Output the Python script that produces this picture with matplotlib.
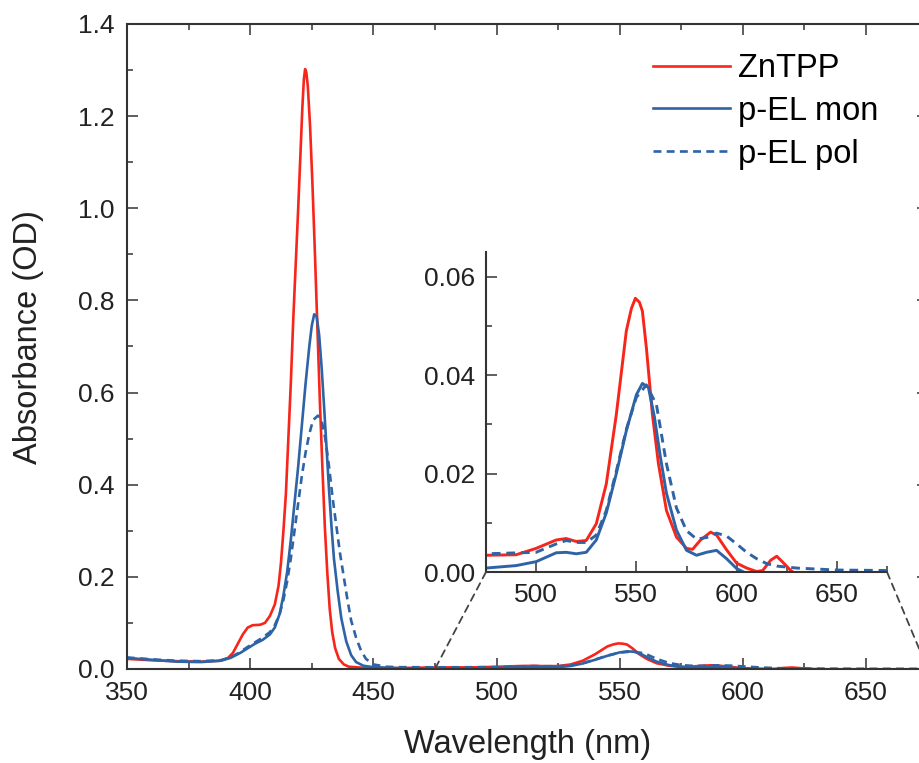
import numpy as np
import matplotlib.pyplot as plt
from matplotlib.patches import ConnectionPatch
from matplotlib.ticker import MultipleLocator

plt.rcParams['font.family'] = ['Liberation Sans', 'DejaVu Sans']

# ZnTPP (red)
wl_zn = [350, 360, 370, 380, 388, 391, 393, 395, 397, 399, 401, 404, 406, 408, 410,
         411.5, 412.5, 413.5, 414.5, 415.5, 416.5, 417.5, 418.5, 419.5, 420.5, 421.2,
         421.8, 422.3, 422.8, 423.4, 424.3, 425.3, 426.3, 427.3, 428.3, 429.3, 430.3,
         431.3, 432.3, 433.3, 434.5, 436, 438, 440, 445, 450, 460,
         475, 490, 500, 510, 515, 520, 525, 530, 535, 540, 545, 547.5, 549.5, 551.5,
         553, 555, 558, 561, 565, 570, 575, 578, 582, 587, 590, 595, 600, 605, 610,
         613, 617, 620, 623, 627, 630, 640, 675]
abs_zn = [0.022, 0.019, 0.017, 0.016, 0.018, 0.024, 0.035, 0.055, 0.075, 0.09, 0.095,
          0.096, 0.1, 0.115, 0.14, 0.18, 0.23, 0.3, 0.38, 0.5, 0.62, 0.76, 0.88, 1.0,
          1.13, 1.22, 1.28, 1.302, 1.295, 1.265, 1.18, 1.05, 0.9, 0.74, 0.58, 0.44,
          0.31, 0.21, 0.13, 0.08, 0.045, 0.022, 0.01, 0.005, 0.003, 0.002, 0.002,
          0.0034, 0.0035, 0.0048, 0.0065, 0.0068, 0.0062, 0.0064, 0.0098, 0.0179, 0.032,
          0.049, 0.0535, 0.0556, 0.0548, 0.053, 0.0455, 0.032, 0.022, 0.0125, 0.0071,
          0.0048, 0.0046, 0.0065, 0.0081, 0.0075, 0.0045, 0.0018, 0.0008, 0.0001,
          0.0003, 0.0024, 0.0032, 0.002, 0.0003, -0.0005, -0.0008, -0.0008]

# p-EL monomer (blue solid)
wl_mon = [350, 360, 370, 380, 388, 392, 396, 399, 402, 405, 408, 410, 412, 413.5, 415,
          416.5, 418, 419.5, 421, 422.5, 424, 425, 426, 427, 428, 429, 430, 431, 432,
          433, 434, 435.5, 437, 439, 441, 443, 446, 450, 460,
          475, 490, 500, 510, 515, 520, 525, 530, 535, 540, 545, 550, 553, 556, 559,
          562, 565, 570, 575, 580, 585, 590, 595, 600, 605, 610, 675]
abs_mon = [0.024, 0.02, 0.016, 0.015, 0.018, 0.024, 0.035, 0.045, 0.055, 0.063, 0.075,
           0.09, 0.12, 0.16, 0.21, 0.28, 0.36, 0.44, 0.53, 0.62, 0.7, 0.745, 0.77, 0.765,
           0.725, 0.655, 0.57, 0.48, 0.39, 0.31, 0.24, 0.17, 0.11, 0.06, 0.03, 0.015,
           0.007, 0.004, 0.002,
           0.0008, 0.0013, 0.0021, 0.0039, 0.004, 0.0037, 0.004, 0.0065, 0.012, 0.02,
           0.0287, 0.036, 0.0383, 0.0375, 0.0315, 0.0233, 0.016, 0.0085, 0.0044,
           0.0034, 0.004, 0.0044, 0.0027, 0.0007, -0.0003, -0.0006, -0.0006]

# p-EL polymer (blue dashed)
wl_pol = [350, 360, 370, 380, 388, 392, 396, 399, 402, 405, 408, 410, 412, 413.5, 415,
          416.5, 418, 419.5, 421, 422.5, 424, 425.5, 427.5, 429, 430.5, 432, 433.5, 435,
          436.5, 438, 439.5, 441, 443, 445, 447, 450, 455, 460,
          475, 500, 510, 515, 520, 525, 530, 535, 540, 545, 550, 555, 560, 565, 570,
          575, 580, 585, 590, 595, 600, 605, 610, 615, 620, 630, 650, 675]
abs_pol = [0.025, 0.021, 0.018, 0.017, 0.019, 0.025, 0.037, 0.048, 0.058, 0.068, 0.08,
           0.095, 0.12, 0.15, 0.19, 0.24, 0.3, 0.36, 0.42, 0.47, 0.51, 0.54, 0.55, 0.54,
           0.5, 0.44, 0.37, 0.31, 0.25, 0.2, 0.15, 0.105, 0.068, 0.04, 0.022, 0.01,
           0.005, 0.004,
           0.0037, 0.004, 0.0057, 0.0064, 0.006, 0.006, 0.0075, 0.0125, 0.0205, 0.029,
           0.0355, 0.038, 0.034, 0.022, 0.013, 0.0084, 0.0067, 0.007, 0.0079, 0.0073,
           0.0057, 0.004, 0.0027, 0.0017, 0.0012, 0.0008, 0.0004, 0.0003]

red = '#f8251b'
blue = '#2e63a6'
axcol = '#333333'

fig = plt.figure(figsize=(9.19, 7.63), dpi=100)
ax = fig.add_axes([127 / 919, 94 / 763, 800.6 / 919, 645 / 763])

ax.plot(wl_zn, abs_zn, color=red, lw=1.9, label='ZnTPP')
ax.plot(wl_mon, abs_mon, color=blue, lw=1.9, label='p-EL mon')
ax.plot(wl_pol, abs_pol, color=blue, lw=1.9, ls=(0, (3, 2)), label='p-EL pol')

ax.set_xlim(350, 675)
ax.set_ylim(0, 1.4)
ax.xaxis.set_major_locator(MultipleLocator(50))
ax.xaxis.set_minor_locator(MultipleLocator(25))
ax.yaxis.set_major_locator(MultipleLocator(0.2))
ax.yaxis.set_minor_locator(MultipleLocator(0.1))
ax.yaxis.set_major_formatter(lambda v, p: f'{v:.1f}')
ax.tick_params(which='both', direction='in', top=True, right=True, width=1.1,
               color=axcol, labelcolor='#222222', labelsize=19, pad=9)
ax.tick_params(which='major', length=8)
ax.tick_params(which='minor', length=4.5)
for s in ax.spines.values():
    s.set_linewidth(1.5)
    s.set_color(axcol)
ax.set_xlabel('Wavelength (nm)', fontsize=23.5, color='#222222', labelpad=17)
ax.set_ylabel('Absorbance (OD)', fontsize=23.5, color='#222222')
ax.yaxis.set_label_coords(-0.104, 0.515)

ax.legend(loc='upper left', bbox_to_anchor=(653 / 919, 1 - 53 / 763),
          bbox_transform=fig.transFigure, frameon=False, fontsize=23.5,
          handlelength=2.35, handletextpad=0.25, labelspacing=0.36,
          borderpad=0, borderaxespad=0)

# inset with the Q bands
axin = fig.add_axes([486 / 919, 191 / 763, 401 / 919, 320 / 763])
axin.plot(wl_zn, abs_zn, color=red, lw=2.1)
axin.plot(wl_mon, abs_mon, color=blue, lw=2.1)
axin.plot(wl_pol, abs_pol, color=blue, lw=2.1, ls=(0, (3, 2)))
axin.set_xlim(475, 675)
axin.set_ylim(0, 0.065)
axin.xaxis.set_major_locator(MultipleLocator(50))
axin.xaxis.set_minor_locator(MultipleLocator(25))
axin.yaxis.set_major_locator(MultipleLocator(0.02))
axin.yaxis.set_minor_locator(MultipleLocator(0.01))
axin.yaxis.set_major_formatter(lambda v, p: f'{v:.2f}')
axin.spines['top'].set_visible(False)
axin.spines['right'].set_visible(False)
for s in ['left', 'bottom']:
    axin.spines[s].set_linewidth(1.5)
    axin.spines[s].set_color(axcol)
axin.tick_params(which='both', direction='in', width=1.1, color=axcol,
                 labelcolor='#222222', labelsize=19, pad=8)
axin.tick_params(which='major', length=8)
axin.tick_params(which='minor', length=4.5)

for x in [475, 675]:
    con = ConnectionPatch(xyA=(x, 0), coordsA=axin.transData, xyB=(x, 0),
                          coordsB=ax.transData, color='#444444', lw=1.3,
                          ls=(0, (4, 3)))
    fig.add_artist(con)

fig.savefig('out.png', dpi=100)
